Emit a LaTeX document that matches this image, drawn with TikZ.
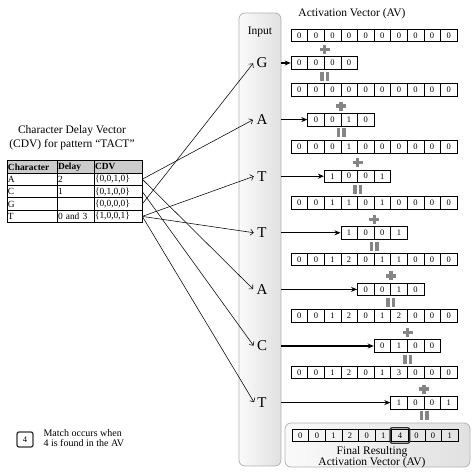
\documentclass[tikz,border=0pt]{standalone}
\usepackage{fontspec}
\setmainfont{Liberation Serif}
\usetikzlibrary{arrows.meta,positioning,calc,fit}

% one row of counter cells: name, left x, centre y, digits
\newcommand{\vecrow}[4]{%
  \foreach \d [count=\k from 0] in {#4}
    \node[cell] (#1-\k) at ({#2+8.3+16.6*\k},#3) {\d};}
% grey operator marks, centred on a named coordinate
\newcommand{\plusat}[1]{%
  \fill[opsign] ($(#1)+(-5,-1.75)$) rectangle ++(10,3.5);
  \fill[opsign] ($(#1)+(-1.75,-4.5)$) rectangle ++(3.5,9);}
\newcommand{\equalat}[1]{%
  \fill[opsign] ($(#1)+(-4.5,-4.5)$) rectangle ++(3.5,9);
  \fill[opsign] ($(#1)+(1,-4.5)$) rectangle ++(3.5,9);}

\begin{document}
\begin{tikzpicture}[
  x=1pt, y=-1pt,
  cell/.style  ={draw, line width=0.6pt, minimum width=16.6pt, minimum height=12.5pt,
                 inner sep=0pt, font=\fontsize{8.5}{9}\selectfont},
  tcell/.style ={draw, line width=0.6pt, minimum height=12.4pt, inner sep=1pt,
                 align=left, font=\fontsize{9.4}{10}\selectfont},
  colA/.style  ={text width=48pt},
  colB/.style  ={text width=35pt},
  colC/.style  ={text width=46pt},
  panel/.style ={draw=gray!60, line width=0.8pt, rounded corners=6pt,
                 left color=gray!4, right color=gray!24},
  letter/.style={font=\fontsize{15}{15}\selectfont, inner sep=3pt},
  title/.style ={font=\fontsize{11.5}{14}\selectfont, align=center},
  hit/.style   ={draw=gray!40!black, line width=1.3pt, rounded corners=2pt},
  opsign/.style={fill=black!48},
  feed/.style  ={-{Stealth[length=6pt,width=5pt]}, line width=1.2pt},
  link/.style  ={-{Straight Barb[length=3pt]}, line width=0.55pt, shorten >=0.5pt},
]
\useasboundingbox (0,0) rectangle (474,473);

% Input column
\node[panel, minimum width=42pt, minimum height=453pt] (inpanel) at (260,239.5) {};
\node[font=\fontsize{11.5}{12}\selectfont] (inlbl) at (260,32) {Input};
\node[letter] (inG)  at (262,63)    {G};
\node[letter] (inA1) at (262,119.6) {A};
\node[letter] (inT1) at (262,176.2) {T};
\node[letter] (inT2) at (262,232.8) {T};
\node[letter] (inA2) at (262,289.4) {A};
\node[letter] (inC)  at (262,346)   {C};
\node[letter] (inT3) at (262,402.6) {T};

% CDV table
\node[title] (cdvttl) at (72,137.5) {Character Delay Vector\\(CDV) for pattern \char"201CTACT\char"201D};
\node[tcell, colA, fill=gray!40] (rH-c) at (32,166.8)   {\textbf{Character}};
\node[tcell, colB, fill=gray!40] (rH-d) at (75.5,166.8) {\textbf{Delay}};
\node[tcell, colC, fill=gray!40] (rH-v) at (118,166.8)  {\textbf{CDV}};
\node[tcell, colA] (rA-c) at (32,179.2)   {A};
\node[tcell, colB] (rA-d) at (75.5,179.2) {2};
\node[tcell, colC] (rA-v) at (118,179.2)  {\{0,0,1,0\}};
\node[tcell, colA] (rC-c) at (32,191.6)   {C};
\node[tcell, colB] (rC-d) at (75.5,191.6) {1};
\node[tcell, colC] (rC-v) at (118,191.6)  {\{0,1,0,0\}};
\node[tcell, colA] (rG-c) at (32,204)     {G};
\node[tcell, colB] (rG-d) at (75.5,204)   {\strut};
\node[tcell, colC] (rG-v) at (118,204)    {\{0,0,0,0\}};
\node[tcell, colA] (rT-c) at (32,216.4)   {T};
\node[tcell, colB] (rT-d) at (75.5,216.4) {0 and 3};
\node[tcell, colC] (rT-v) at (118,216.4)  {\{1,0,0,1\}};

% Activation vectors
\node[title] (avttl) at (352,14) {Activation Vector (AV)};
\vecrow{av0}{291}{35.5}{0,0,0,0,0,0,0,0,0,0}
\vecrow{dG}{291}{63}{0,0,0,0}
\vecrow{av1}{291}{90}{0,0,0,0,0,0,0,0,0,0}
\vecrow{dA1}{307.6}{119.6}{0,0,1,0}
\vecrow{av2}{291}{147}{0,0,0,1,0,0,0,0,0,0}
\vecrow{dT1}{324.2}{176.2}{1,0,0,1}
\vecrow{av3}{291}{203}{0,0,1,1,0,1,0,0,0,0}
\vecrow{dT2}{340.8}{232.8}{1,0,0,1}
\vecrow{av4}{291}{259.5}{0,0,1,2,0,1,1,0,0,0}
\vecrow{dA2}{357.4}{289.4}{0,0,1,0}
\vecrow{av5}{291}{316}{0,0,1,2,0,1,2,0,0,0}
\vecrow{dC}{374}{346}{0,1,0,0}
\vecrow{av6}{291}{372.5}{0,0,1,2,0,1,3,0,0,0}
\vecrow{dT3}{390.6}{402.6}{1,0,0,1}

% Final result
\node[panel, minimum width=185pt, minimum height=44pt] (finalbox) at (377.5,445) {};
\vecrow{avf}{292}{435.5}{0,0,1,2,0,1,4,0,0,1}
\node[hit, fit=(avf-6), inner sep=1.2pt] (match) {};
\node[title, font=\fontsize{11.5}{9.5}\selectfont] (finallbl) at (372,457) {Final Resulting\\Activation Vector (AV)};

% plus above and equals below every delay vector
\foreach \v in {dG,dA1,dT1,dT2,dA2,dC,dT3} {
  \coordinate (\v-plus) at ($(\v-1.east)+(0,-13.5)$);
  \coordinate (\v-eq)   at ($(\v-1.east)+(0,13.3)$);
  \plusat{\v-plus}
  \equalat{\v-eq}
}

% arrows input -> delay vectors
\foreach \c/\v in {inG/dG,inA1/dA1,inT1/dT1,inT2/dT2,inA2/dA2,inC/dC,inT3/dT3}
  \draw[feed] (\c.east -| inpanel.east) -- (\v-0.west);

% arrows table -> input characters
\foreach \r/\c in {rA/inA1,rA/inA2,rC/inC,rG/inG,rT/inT1,rT/inT2,rT/inT3}
  \draw[link] (\r-v.east) -- (\c.west);

% legend
\node[hit, minimum width=16pt, minimum height=15pt, inner sep=0pt,
      font=\fontsize{8.5}{9}\selectfont] (legbox) at (25,439.5) {4};
\node[anchor=west, align=left, font=\fontsize{10}{10}\selectfont] (legtxt) at (40,438.5)
  {Match occurs when\\4 is found in the AV};
\end{tikzpicture}
\end{document}
